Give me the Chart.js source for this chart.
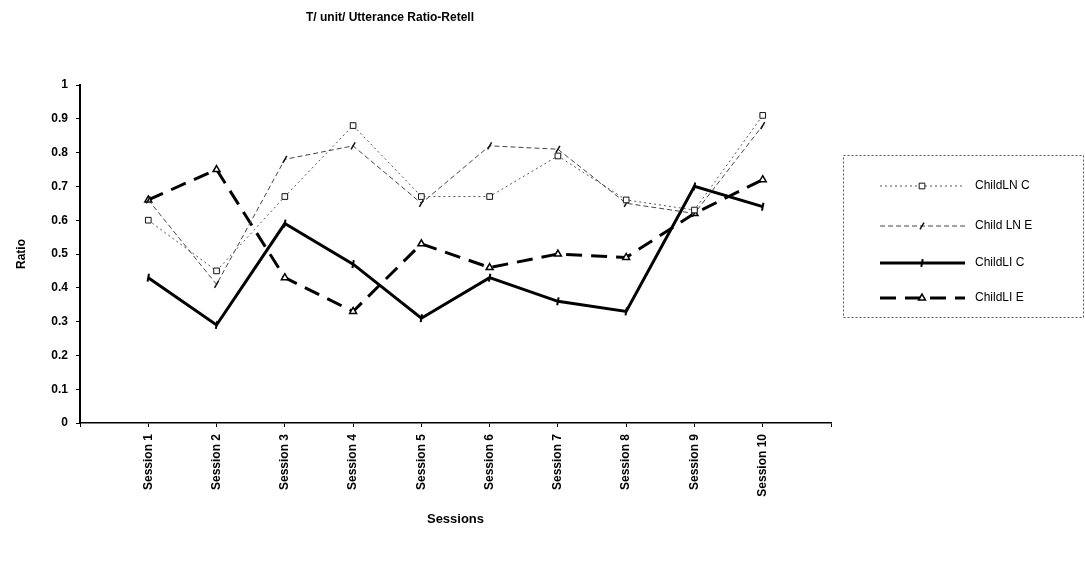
<!DOCTYPE html>
<html>
<head>
<meta charset="utf-8">
<script src="https://cdn.jsdelivr.net/npm/chart.js@4.4.1/dist/chart.umd.min.js"></script>
<style>
  html, body { margin: 0; padding: 0; background: #fff; }
  #wrap { width: 1085px; height: 566px; position: relative; }
</style>
</head>
<body>
<div id="wrap"><canvas id="myChart"></canvas></div>
<script>
const chartTitle = "T/ unit/ Utterance Ratio-Retell";
const sessions = ["Session 1", "Session 2", "Session 3", "Session 4", "Session 5",
                  "Session 6", "Session 7", "Session 8", "Session 9", "Session 10"];
const yTickLabels = ["0", "0.1", "0.2", "0.3", "0.4", "0.5", "0.6", "0.7", "0.8", "0.9", "1"];
const seriesNames = ["ChildLN C", "Child LN E", "ChildLI C", "ChildLI E"];

// valores
const childLnC = [0.60, 0.45, 0.67, 0.88, 0.67, 0.67, 0.79, 0.66, 0.63, 0.91];
const childLnE = [0.66, 0.41, 0.78, 0.82, 0.65, 0.82, 0.81, 0.65, 0.62, 0.88];
const childLiC = [0.43, 0.29, 0.59, 0.47, 0.31, 0.43, 0.36, 0.33, 0.70, 0.64];
const childLiE = [0.66, 0.75, 0.43, 0.33, 0.53, 0.46, 0.50, 0.49, 0.62, 0.72];

// un hueco vacio a cada lado del eje, como en el original
const labels = ["", ...sessions, ""];
const pad = (arr) => [null, ...arr, null];

const fontFam = "'Liberation Sans', Arial, sans-serif";

const datasets = [
    {
        label: seriesNames[0], data: pad(childLnC),
        borderColor: "#555", borderWidth: 1, borderDash: [2, 3],
        pointStyle: "rect", pointRadius: 4, pointBorderWidth: 1,
        pointBackgroundColor: "#fff", pointBorderColor: "#111",
    },
    {
        label: seriesNames[1], data: pad(childLnE),
        borderColor: "#444", borderWidth: 1, borderDash: [5, 3],
        pointStyle: "line", pointRadius: 4, pointRotation: -60, pointBorderWidth: 1.5,
        pointBackgroundColor: "#111", pointBorderColor: "#111",
    },
    {
        label: seriesNames[2], data: pad(childLiC),
        borderColor: "#000", borderWidth: 3, borderDash: [],
        pointStyle: "line", pointRadius: 4, pointRotation: 100, pointBorderWidth: 2,
        pointBackgroundColor: "#000", pointBorderColor: "#000",
    },
    {
        label: seriesNames[3], data: pad(childLiE),
        borderColor: "#000", borderWidth: 3, borderDash: [16, 9],
        pointStyle: "triangle", pointRadius: 4, pointBorderWidth: 1.5,
        pointBackgroundColor: "#fff", pointBorderColor: "#000",
    },
];

// titulo y leyenda con recuadro punteado
const decor = {
    id: "decor",
    afterDraw(chart) {
        const ctx = chart.ctx;
        ctx.save();
        ctx.fillStyle = "#000";
        ctx.font = "bold 12px " + fontFam;
        ctx.textAlign = "center";
        ctx.textBaseline = "middle";
        ctx.fillText(chartTitle, 390, 18);

        // recuadro de la leyenda
        ctx.strokeStyle = "#555";
        ctx.lineWidth = 1;
        ctx.setLineDash([2, 2]);
        ctx.strokeRect(843.5, 155.5, 240, 162);

        const rows = [186, 226, 263, 298];
        chart.data.datasets.forEach((ds, i) => {
            const y = rows[i];
            ctx.setLineDash(ds.borderDash);
            ctx.strokeStyle = ds.borderColor;
            ctx.lineWidth = ds.borderWidth;
            ctx.beginPath();
            ctx.moveTo(880, y);
            ctx.lineTo(965, y);
            ctx.stroke();
            ctx.setLineDash([]);
            if (Chart.helpers && Chart.helpers.drawPoint) {
                ctx.fillStyle = ds.pointBackgroundColor;
                ctx.strokeStyle = ds.pointBorderColor;
                ctx.lineWidth = ds.pointBorderWidth;
                Chart.helpers.drawPoint(ctx, {
                    pointStyle: ds.pointStyle, radius: ds.pointRadius,
                    rotation: ds.pointRotation || 0, borderWidth: ds.pointBorderWidth
                }, 922, y);
            }
            ctx.fillStyle = "#000";
            ctx.font = "12px " + fontFam;
            ctx.textAlign = "left";
            ctx.fillText(ds.label, 975, y);
        });
        ctx.restore();
    }
};

const config = {
    type: "line",
    data: { labels: labels, datasets: datasets },
    options: {
        responsive: true,
        maintainAspectRatio: false,
        animation: false,
        layout: { padding: { left: 10, right: 254, top: 85, bottom: 35 } },
        elements: { line: { tension: 0 } },
        plugins: {
            legend: { display: false },
            title: { display: false },
            tooltip: { enabled: false },
        },
        scales: {
            x: {
                type: "category",
                offset: false,
                afterFit(scale) { scale.height = 108; },
                border: { color: "#000", width: 1.5 },
                grid: { display: true, drawOnChartArea: false, drawTicks: true, tickLength: 4, color: "#000" },
                ticks: {
                    autoSkip: false, minRotation: 90, maxRotation: 90, padding: 7,
                    color: "#000", font: { family: fontFam, size: 12, weight: "bold" },
                },
                title: {
                    display: true, text: "Sessions", color: "#000",
                    font: { family: fontFam, size: 13, weight: "bold" },
                    padding: { top: 4, bottom: 4 },
                },
            },
            y: {
                min: 0, max: 1,
                afterFit(scale) { scale.width = 70; },
                border: { color: "#000", width: 2 },
                grid: { display: true, drawOnChartArea: false, drawTicks: true, tickLength: 4, color: "#000" },
                ticks: {
                    stepSize: 0.1, padding: 8, color: "#000",
                    font: { family: fontFam, size: 12, weight: "bold" },
                    callback: (v, i) => yTickLabels[i],
                },
                title: {
                    display: true, text: "Ratio", color: "#000",
                    font: { family: fontFam, size: 12, weight: "bold" },
                    padding: { top: 4, bottom: 4 },
                },
            },
        },
    },
    plugins: [decor],
};

const myChart = new Chart(document.getElementById("myChart"), config);
</script>
</body>
</html>
